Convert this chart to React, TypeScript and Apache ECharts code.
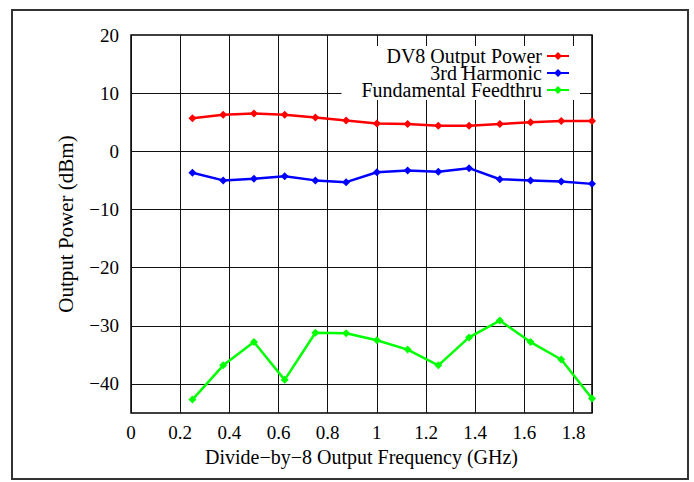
import React, { useEffect, useRef } from "react";
import * as echarts from "echarts";

const freqGHz = [0.25, 0.375, 0.5, 0.625, 0.75, 0.875, 1.0, 1.125, 1.25, 1.375, 1.5, 1.625, 1.75, 1.875];
const dv8Power = [5.7, 6.3, 6.5, 6.3, 5.8, 5.3, 4.8, 4.7, 4.4, 4.4, 4.7, 5.0, 5.2, 5.2];
const thirdHarmonic = [-3.7, -5.0, -4.7, -4.3, -5.0, -5.3, -3.6, -3.3, -3.5, -2.9, -4.8, -5.0, -5.2, -5.6];
const feedthru = [-42.7, -36.8, -32.8, -39.3, -31.2, -31.3, -32.5, -34.1, -36.8, -32.0, -29.1, -32.8, -35.8, -42.5];
const seriesNames = ["DV8 Output Power", "3rd Harmonic", "Fundamental Feedthru"];
const seriesColors = ["#ff0000", "#0000ff", "#00ff00"];
const yGridTicks = [-40, -30, -20, -10, 0, 10];
const xAxisTitle = "Divide\u2212by\u22128 Output Frequency (GHz)";
const yAxisTitle = "Output Power (dBm)";

const FONT = "Liberation Serif";

const fmt = (v: number) => {
  const r = Number(v.toFixed(3));
  return r < 0 ? "\u2212" + String(Math.abs(r)) : String(r);
};

const richF = (size: number) => ({ f: { fontFamily: FONT, fontSize: size, color: "#000" } });

export default function App() {
  const ref = useRef<HTMLDivElement>(null);
  useEffect(() => {
    if (!ref.current) return;
    const chart = echarts.init(ref.current, undefined, { renderer: "svg" });
    const allSeries = [dv8Power, thirdHarmonic, feedthru];
    chart.setOption({
      animation: false,
      backgroundColor: "#fff",
      textStyle: { fontFamily: FONT },
      grid: {
        left: 131,
        top: 35,
        right: 102,
        bottom: 69,
        show: true,
        borderColor: "#000",
        borderWidth: 1.5,
        backgroundColor: "transparent",
      },
      legend: {
        data: seriesNames,
        orient: "vertical",
        align: "right",
        right: 114,
        top: 46,
        itemGap: -3,
        itemWidth: 22,
        itemHeight: 10,
        padding: [0, 10, 0, 20],
        backgroundColor: "#fff",
        formatter: (n: string) => `{f|${n}}`,
        textStyle: { fontFamily: FONT, fontSize: 20, color: "#000", rich: { f: { fontFamily: FONT, fontSize: 20, color: "#000" } } },
      },
      xAxis: {
        type: "value",
        min: 0,
        max: 1.875,
        interval: 0.2,
        name: `{f|${xAxisTitle}}`,
        nameLocation: "middle",
        nameGap: 30,
        nameTextStyle: { fontFamily: FONT, fontSize: 20, color: "#000", rich: richF(20) },
        axisLine: { show: false },
        axisTick: { show: false },
        axisLabel: {
          fontFamily: FONT,
          fontSize: 19,
          color: "#000",
          margin: 10,
          showMaxLabel: false,
          formatter: (v: number) => `{f|${fmt(v)}}`,
          rich: richF(19),
        },
        splitLine: { show: true, lineStyle: { color: "#111", width: 1 } },
      },
      yAxis: {
        type: "value",
        min: -45,
        max: 20,
        interval: 5,
        name: yAxisTitle,
        nameLocation: "middle",
        nameGap: 55,
        nameTextStyle: { fontFamily: "serif", fontSize: 21, color: "#000" },
        axisLine: { show: false },
        axisTick: { show: false },
        axisLabel: {
          fontFamily: "serif",
          fontSize: 19,
          color: "#000",
          margin: 12,
          formatter: (v: number) => (Math.round(v) % 10 === 0 ? fmt(v) : ""),
        },
        splitLine: { show: false },
      },
      graphic: [
        {
          type: "rect",
          shape: { x: 12, y: 10, width: 676, height: 469 },
          style: { fill: "none", stroke: "#333", lineWidth: 2 },
          silent: true,
        },
      ],
      series: allSeries.map((vals, i) => ({
        name: seriesNames[i],
        type: "line",
        data: freqGHz.map((f, j) => [f, vals[j]]),
        symbol: "diamond",
        symbolSize: 8,
        showSymbol: true,
        clip: false,
        itemStyle: { color: seriesColors[i] },
        lineStyle: { color: seriesColors[i], width: 2.5 },
        ...(i === 0
          ? {
              markLine: {
                z: 1,
                silent: true,
                symbol: ["none", "none"],
                label: { show: false },
                emphasis: { disabled: true },
                lineStyle: { color: "#111", width: 1, type: "solid" },
                data: yGridTicks.map((t) => ({ yAxis: t })),
              },
            }
          : {}),
      })),
    });
    return () => chart.dispose();
  }, []);
  return (
    <div
      ref={ref}
      style={{ position: "absolute", left: 0, top: 0, width: 694, height: 482 }}
    />
  );
}
